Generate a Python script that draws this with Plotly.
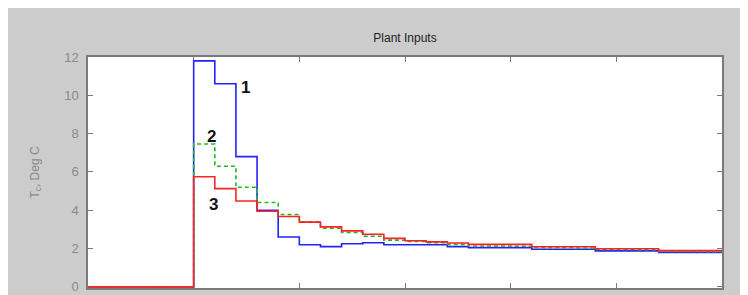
import plotly.graph_objects as go

# Step start times (2-unit sampling), plus final end time
t_start = [0, 2, 4, 6, 8, 10, 12, 14, 16, 18, 20, 22, 24, 26, 28, 30, 32, 34, 36, 38,
           40, 42, 44, 46, 48, 50, 52, 54, 56, 58]
t_end = 60

blue_1 = [0, 0, 0, 0, 0, 11.8, 10.6, 6.8, 4.0, 2.6, 2.2, 2.1, 2.25, 2.3, 2.2, 2.2, 2.2, 2.1, 2.05, 2.05,
          2.05, 1.96, 1.96, 1.96, 1.88, 1.88, 1.88, 1.8, 1.8, 1.8]
green_2 = [0, 0, 0, 0, 0, 7.46, 6.3, 5.2, 4.4, 3.78, 3.4, 3.06, 2.84, 2.64, 2.44, 2.37, 2.3, 2.22, 2.13, 2.13,
           2.12, 2.04, 2.04, 2.03, 1.95, 1.95, 1.94, 1.85, 1.85, 1.84]
red_3 = [0, 0, 0, 0, 0, 5.75, 5.13, 4.48, 3.95, 3.67, 3.38, 3.13, 2.92, 2.75, 2.53, 2.41, 2.35, 2.29, 2.22, 2.22,
         2.22, 2.09, 2.09, 2.09, 1.99, 1.99, 1.99, 1.89, 1.89, 1.89]

y_ticks = [0, 2, 4, 6, 8, 10, 12]
x_ticks = [0, 10, 20, 30, 40, 50, 60]
curve_labels = ["1", "2", "3"]
label_pos = [(14.9, 10.4), (11.7, 7.85), (11.9, 4.3)]

x = t_start + [t_end]

def ext(v):
    return v + [v[-1]]

fig = go.Figure()
fig.add_trace(go.Scatter(x=x, y=ext(blue_1), mode="lines", line_shape="hv",
                         line=dict(color="#2222ff", width=1.6), showlegend=False))
fig.add_trace(go.Scatter(x=x, y=ext(green_2), mode="lines", line_shape="hv",
                         line=dict(color="#22b822", width=1.6, dash="4px,3px"), showlegend=False))
fig.add_trace(go.Scatter(x=x, y=ext(red_3), mode="lines", line_shape="hv",
                         line=dict(color="#ff2222", width=1.6), showlegend=False))

for txt, (lx, ly) in zip(curve_labels, label_pos):
    fig.add_annotation(x=lx, y=ly, text="<b>" + txt + "</b>", showarrow=False,
                       font=dict(family="Liberation Sans, Arial", size=17, color="#111111"))

# page has an 8px body margin, so the figure starts at (8, 8) in the window
W, H = 740, 290
L, T = 80, 49
R = W - (722 - 8)
B = H - (288 - 8)

axis_col = "#7a7a7a"
fig.update_layout(
    width=W, height=H,
    margin=dict(l=L, r=R, t=T, b=B, autoexpand=False),
    paper_bgcolor="#cccccc",
    plot_bgcolor="white",
    font=dict(family="Liberation Sans, Arial", size=12, color=axis_col),
    title=dict(text="Plant Inputs", x=(405 - 8) / W, xanchor="center", y=1 - 30 / H, yanchor="middle",
               yref="container", font=dict(size=12, color="#222222")),
    xaxis=dict(range=[0, 60], tickvals=x_ticks, showticklabels=False, ticks="inside", ticklen=5,
               tickcolor=axis_col, showline=True, linecolor=axis_col, linewidth=1.5, mirror="ticks",
               showgrid=False, zeroline=False, layer="below traces"),
    yaxis=dict(range=[-0.06, 12], tickvals=y_ticks, ticks="inside", ticklen=5, tickcolor=axis_col,
               showline=True, linecolor=axis_col, linewidth=1.5, mirror="ticks",
               showgrid=False, zeroline=False, ticklabelstandoff=5, layer="below traces",
               tickfont=dict(size=13, color="#8a8a8a"),
               title=dict(text="T<sub>c</sub>, Deg C", standoff=22, font=dict(size=12, color="#8a8a8a"))),
)

fig.write_html("out.html")
